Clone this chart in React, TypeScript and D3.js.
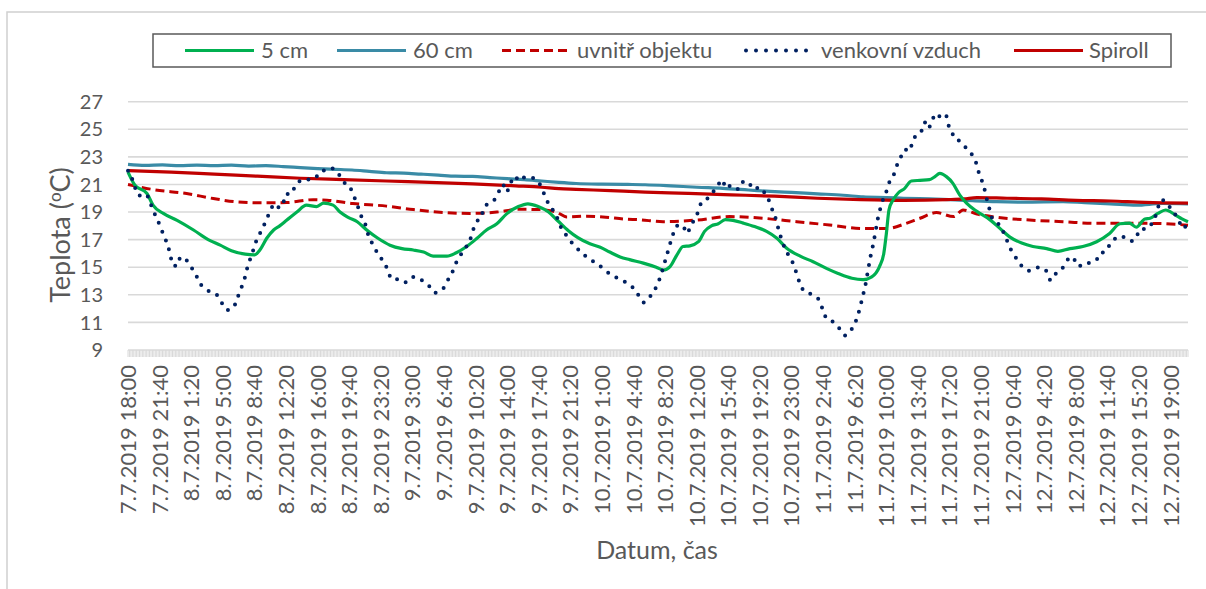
import * as d3 from "d3";

// x axis labels (every 220 minutes)
const tickLabels = [
  "7.7.2019 18:00", "7.7.2019 21:40", "8.7.2019 1:20", "8.7.2019 5:00", "8.7.2019 8:40",
  "8.7.2019 12:20", "8.7.2019 16:00", "8.7.2019 19:40", "8.7.2019 23:20", "9.7.2019 3:00",
  "9.7.2019 6:40", "9.7.2019 10:20", "9.7.2019 14:00", "9.7.2019 17:40", "9.7.2019 21:20",
  "10.7.2019 1:00", "10.7.2019 4:40", "10.7.2019 8:20", "10.7.2019 12:00", "10.7.2019 15:40",
  "10.7.2019 19:20", "10.7.2019 23:00", "11.7.2019 2:40", "11.7.2019 6:20", "11.7.2019 10:00",
  "11.7.2019 13:40", "11.7.2019 17:20", "11.7.2019 21:00", "12.7.2019 0:40", "12.7.2019 4:20",
  "12.7.2019 8:00", "12.7.2019 11:40", "12.7.2019 15:20", "12.7.2019 19:00",
];
const firstTime = "7.7.2019 18:00";
const lastTime = "12.7.2019 21:00";
const yTicks = [9, 11, 13, 15, 17, 19, 21, 23, 25, 27];

// [hours since 7.7.2019 18:00, °C]
const soil5: [number, number][] = [
  [0, 21.9], [0.8, 20.95], [2.2, 20.35], [2.9, 19.5], [4.1, 18.9], [5.7, 18.4], [7.6, 17.7],
  [9.3, 17.0], [10.7, 16.6], [12.0, 16.2], [13.6, 15.95], [14.7, 15.9], [15.3, 16.25],
  [16.1, 17.1], [16.9, 17.7], [17.6, 18.0], [18.4, 18.4], [19.6, 19.0], [20.7, 19.5],
  [21.9, 19.4], [22.7, 19.65], [23.8, 19.5], [24.6, 19.0], [25.6, 18.6], [26.6, 18.3],
  [27.7, 17.7], [29.0, 17.1], [30.4, 16.6], [31.8, 16.35], [33.1, 16.25], [34.3, 16.1],
  [35.4, 15.8], [37.0, 15.8], [38.1, 16.05], [39.3, 16.5], [40.5, 17.1], [41.6, 17.7],
  [42.8, 18.15], [43.9, 18.85], [45.3, 19.4], [46.4, 19.6], [47.6, 19.4], [48.8, 19.0],
  [49.9, 18.35], [51.1, 17.65], [52.2, 17.15], [53.6, 16.7], [54.8, 16.45], [55.9, 16.1],
  [57.1, 15.75], [58.2, 15.55], [59.8, 15.3], [61.3, 15.0], [62.1, 14.8], [62.9, 15.05],
  [63.7, 15.9], [64.4, 16.5], [65.2, 16.55], [66.2, 16.85], [66.9, 17.6], [67.7, 18.0],
  [68.5, 18.15], [69.3, 18.45], [70.2, 18.4], [71.4, 18.2], [72.7, 17.95], [74.1, 17.6],
  [75.3, 17.1], [76.4, 16.4], [78.0, 15.8], [79.5, 15.4], [81.1, 14.9], [82.4, 14.55],
  [84.0, 14.2], [85.3, 14.1], [86.3, 14.3], [87.2, 15.05], [87.7, 16.0], [88.0, 17.45],
  [88.3, 19.15], [88.8, 19.9], [89.4, 20.4], [90.1, 20.7], [90.9, 21.25], [91.9, 21.3],
  [93.0, 21.35], [93.6, 21.55], [94.2, 21.8], [95.0, 21.55], [95.7, 21.1], [96.5, 20.25],
  [97.3, 19.65], [98.5, 19.05], [100.0, 18.45], [101.2, 17.8], [102.3, 17.2], [103.7, 16.75],
  [105.0, 16.5], [106.6, 16.35], [107.9, 16.15], [109.3, 16.35], [110.8, 16.5], [112.4, 16.85],
  [113.9, 17.45], [115.1, 18.15], [116.2, 18.2], [117.0, 17.9], [118.0, 18.5], [118.6, 18.55],
  [119.5, 18.9], [120.4, 19.15], [121.5, 18.8], [122.3, 18.5], [123.0, 18.3],
];

const soil60: [number, number][] = [
  [0, 22.45], [2, 22.38], [4, 22.42], [6, 22.36], [8, 22.4], [10, 22.37], [12, 22.4],
  [14, 22.33], [16, 22.36], [18, 22.3], [20, 22.22], [22, 22.15], [24, 22.1], [26, 22.05],
  [28, 21.95], [30, 21.85], [32, 21.82], [34, 21.75], [36, 21.68], [38, 21.6], [40, 21.58],
  [42, 21.5], [44, 21.42], [46, 21.35], [48, 21.25], [50, 21.15], [52, 21.07], [55, 21.02],
  [58, 21.0], [60, 20.98], [63, 20.9], [66, 20.8], [69, 20.72], [72, 20.6], [74.5, 20.5],
  [77, 20.42], [80, 20.32], [83, 20.22], [85.3, 20.1], [88, 20.05], [90, 20.0], [93, 19.95],
  [96, 19.88], [98, 19.82], [100.8, 19.75], [104, 19.72], [108.5, 19.75], [111, 19.68],
  [114, 19.6], [117, 19.5], [120, 19.62], [123, 19.6],
];

const inside: [number, number][] = [
  [0, 21.0], [2.9, 20.63], [6.8, 20.34], [9.9, 19.98], [12.6, 19.74], [15.7, 19.67],
  [18.4, 19.69], [21.5, 19.9], [23.1, 19.86], [26.1, 19.62], [30.0, 19.43], [33.1, 19.18],
  [36.2, 18.99], [39.7, 18.9], [42.8, 19.0], [45.5, 19.2], [47.8, 19.18], [49.7, 19.0],
  [50.9, 18.65], [53.2, 18.7], [55.1, 18.65], [57.9, 18.48], [59.2, 18.45], [62.1, 18.3],
  [66.0, 18.42], [69.8, 18.67], [73.7, 18.55], [77.6, 18.3], [81.4, 18.06], [85.3, 17.8],
  [88.0, 17.8], [90.3, 18.18], [91.9, 18.55], [93.8, 18.96], [95.8, 18.67], [96.9, 19.15],
  [98.5, 18.86], [100.8, 18.62], [104.6, 18.42], [108.5, 18.3], [112.4, 18.18],
  [116.2, 18.18], [118.6, 18.18], [123.0, 18.05],
];

const outdoor: [number, number][] = [
  [0, 22.0], [0.4, 21.55], [0.8, 20.8], [1.2, 20.2], [2.1, 20.3], [2.55, 19.7], [3.0, 19.0],
  [3.45, 18.4], [3.9, 17.7], [4.3, 17.1], [4.7, 16.4], [4.95, 15.75], [5.25, 15.1],
  [5.7, 15.1], [6.1, 15.75], [6.8, 15.5], [7.4, 14.95], [8.0, 14.3], [8.5, 13.7], [9.3, 13.3],
  [10.3, 13.0], [10.9, 12.4], [11.5, 11.9], [12.2, 12.05], [12.6, 12.6], [13.0, 13.3],
  [13.4, 13.9], [14.0, 15.3], [14.4, 15.95], [14.7, 16.6], [15.1, 17.2], [15.6, 17.8],
  [16.1, 18.5], [16.5, 19.1], [17.05, 19.6], [17.6, 19.3], [18.0, 19.6], [18.3, 20.3],
  [18.9, 20.3], [19.1, 20.6], [19.5, 20.8], [19.95, 21.25], [20.6, 21.25], [21.5, 21.6],
  [22.1, 21.6], [22.7, 22.0], [23.5, 22.2], [24.4, 21.8], [25.0, 21.2], [25.75, 20.8],
  [26.25, 20.1], [26.65, 19.45], [27.0, 18.8], [27.5, 18.2], [27.8, 17.5], [28.2, 16.9],
  [28.7, 16.3], [29.3, 15.7], [29.9, 15.15], [30.25, 14.55], [30.7, 14.1], [31.55, 14.15],
  [32.3, 13.9], [33.2, 14.3], [34.1, 14.05], [35.0, 13.6], [35.6, 13.15], [36.5, 13.4],
  [37.1, 14.05], [37.6, 14.6], [38.05, 15.3], [38.5, 15.8], [39.1, 16.35], [39.7, 17.0],
  [40.0, 17.6], [40.4, 18.3], [40.9, 18.5], [41.2, 19.1], [41.9, 19.7], [42.7, 20.0],
  [43.15, 20.65], [43.5, 21.0], [43.9, 20.45], [44.4, 21.1], [44.8, 21.6], [45.5, 21.25],
  [46.1, 21.55], [46.4, 21.55], [47.2, 21.4], [47.9, 20.9], [48.3, 20.3], [48.8, 19.6],
  [49.4, 19.05], [49.9, 18.45], [50.3, 17.8], [50.95, 17.25], [51.6, 16.7], [52.4, 16.2],
  [53.2, 15.75], [54.05, 15.4], [54.95, 15.0], [55.85, 14.55], [56.7, 14.25], [57.65, 13.95],
  [58.55, 13.55], [59.2, 13.0], [59.85, 12.45], [60.55, 12.85], [61.15, 13.4], [61.65, 14.1],
  [62.0, 14.75], [62.3, 15.4], [62.6, 16.05], [62.9, 16.7], [63.25, 17.4], [63.65, 18.0],
  [64.4, 18.05], [64.8, 17.45], [65.2, 17.8], [65.65, 18.4], [66.15, 19.0], [66.55, 19.7],
  [67.1, 19.9], [67.7, 20.35], [68.35, 20.8], [68.9, 21.35], [69.45, 20.7], [70.0, 20.95],
  [70.9, 20.65], [71.4, 21.2], [71.95, 21.2], [72.55, 20.65], [73.3, 20.8], [74.0, 20.25],
  [74.5, 19.65], [74.85, 19.0], [75.25, 18.35], [75.5, 17.7], [75.85, 17.0], [76.2, 16.4],
  [76.8, 15.7], [77.3, 15.1], [77.6, 14.5], [77.95, 13.85], [78.55, 13.2], [79.5, 13.0],
  [80.3, 12.5], [80.65, 11.85], [81.15, 11.2], [81.8, 11.05], [82.5, 10.6], [83.2, 10.05],
  [83.85, 10.4], [84.4, 11.0], [84.75, 11.65], [85.05, 12.35], [85.3, 13.0], [85.55, 13.65],
  [85.75, 14.35], [85.95, 15.05], [86.15, 15.75], [86.4, 16.45], [86.6, 17.1], [86.8, 17.8],
  [87.0, 18.5], [87.25, 19.15], [87.55, 19.8], [87.95, 20.4], [88.3, 21.1], [88.85, 21.7],
  [89.2, 22.35], [89.65, 22.95], [90.15, 23.55], [90.65, 23.4], [91.0, 24.0], [91.5, 24.65],
  [92.1, 24.9], [92.45, 25.5], [92.85, 25.05], [93.25, 25.55], [93.75, 26.15], [94.4, 25.85],
  [94.9, 26.05], [95.15, 25.4], [95.55, 24.9], [95.95, 24.3], [96.5, 24.15], [97.3, 23.6],
  [98.0, 23.1], [98.45, 22.5], [98.75, 21.8], [99.15, 21.15], [99.45, 20.5], [99.7, 19.8],
  [100.0, 19.15], [100.3, 18.5], [100.8, 18.3], [101.3, 17.85], [101.8, 17.25], [102.2, 16.6],
  [102.7, 16.0], [103.35, 15.4], [104.0, 14.9], [104.65, 14.75], [105.7, 15.0], [106.6, 14.7],
  [107.05, 14.05], [107.6, 14.5], [108.4, 14.9], [108.95, 15.5], [109.65, 15.75],
  [110.15, 15.1], [111.0, 15.1], [111.85, 15.5], [112.9, 15.7], [113.25, 16.3], [114.2, 16.7],
  [114.75, 17.2], [115.65, 17.2], [116.5, 16.9], [117.0, 17.15], [117.4, 17.75], [118.25, 17.8],
  [119.15, 18.6], [119.95, 19.9], [120.65, 19.5], [121.35, 19.0], [122.05, 18.2],
  [122.5, 17.8], [123.0, 18.6],
];

const spiroll: [number, number][] = [
  [0, 22.0], [5, 21.9], [10, 21.75], [15, 21.6], [20, 21.45], [25, 21.35], [30, 21.25],
  [35, 21.15], [40, 21.05], [45, 20.9], [48, 20.8], [50, 20.7], [52, 20.65], [56, 20.55],
  [60, 20.45], [65, 20.35], [70, 20.25], [75, 20.15], [80, 20.0], [85, 19.9], [90, 19.85],
  [95, 19.9], [97, 19.95], [98.5, 20.05], [102, 20.0], [106, 19.95], [110, 19.85],
  [114, 19.8], [118, 19.7], [123, 19.65],
];

const seriesNames = ["5 cm", "60 cm", "uvnitř objektu", "venkovní vzduch", "Spiroll"];

const W = 1206;
const H = 589;
const FONT = "Lato, 'Open Sans', sans-serif";
const TEXT = "#595959";
const GRID = "#D9D9D9";

const parse = d3.timeParse("%d.%m.%Y %H:%M");

export default function App() {
  const start = parse(firstTime) as Date;
  const end = parse(lastTime) as Date;
  const x = d3.scaleTime().domain([start, end]).range([128, 1188]);
  const y = d3.scaleLinear().domain([9, 27]).range([350, 101.7]);
  const toDate = (h: number) => new Date(start.getTime() + h * 3600e3);

  const line = d3
    .line<[number, number]>()
    .x((d) => x(toDate(d[0])))
    .y((d) => y(d[1]))
    .curve(d3.curveMonotoneX);

  const minorTicks = d3.timeMinute.every(10)!.range(start, new Date(end.getTime() + 1));

  const series = [
    { name: seriesNames[0], data: soil5, color: "#00B050", width: 3.2, dash: undefined as string | undefined, cap: "butt" },
    { name: seriesNames[1], data: soil60, color: "#3A8BA6", width: 3.2, dash: undefined, cap: "butt" },
    { name: seriesNames[2], data: inside, color: "#C00000", width: 3, dash: "9 5", cap: "butt" },
    { name: seriesNames[3], data: outdoor, color: "#002060", width: 4, dash: "0 9.5", cap: "round" },
    { name: seriesNames[4], data: spiroll, color: "#C00000", width: 3.2, dash: undefined, cap: "butt" },
  ];
  // draw order: soil60 & spiroll under, then others
  const drawOrder = [1, 4, 2, 0, 3];

  const legendPos = [
    { x1: 185, x2: 254, tx: 261 },
    { x1: 337, x2: 406, tx: 413 },
    { x1: 502, x2: 570, tx: 577 },
    { x1: 746, x2: 809, tx: 821 },
    { x1: 1014, x2: 1083, tx: 1089 },
  ];
  const legendY = 50.5;

  return (
    <svg width={W} height={H} style={{ display: "block", fontFamily: FONT }}>
      <style>{`body{margin:0}`}</style>
      <rect x={0} y={0} width={W} height={H} fill="#fff" />
      <rect x={7} y={12} width={W + 20} height={H + 20} fill="none" stroke="#D0D0D0" strokeWidth={1.5} />

      {/* gridlines */}
      {yTicks.map((t) => (
        <line key={t} x1={x.range()[0]} x2={x.range()[1]} y1={y(t)} y2={y(t)} stroke={GRID} strokeWidth={1.6} />
      ))}
      {/* minor category ticks */}
      {minorTicks.map((t, i) => (
        <line key={i} x1={x(t)} x2={x(t)} y1={y(9)} y2={y(9) + 7} stroke={GRID} strokeWidth={1} />
      ))}

      {/* y tick labels */}
      {yTicks.map((t) => (
        <text key={t} x={103} y={y(t)} dy="0.36em" textAnchor="end" fontSize={20} fill={TEXT}>
          {t}
        </text>
      ))}

      {/* x tick labels */}
      {tickLabels.map((lab) => {
        const d = parse(lab) as Date;
        return (
          <text
            key={lab}
            transform={`translate(${x(d)},${365}) rotate(-90)`}
            dy="0.36em"
            textAnchor="end"
            fontSize={22}
            fill={TEXT}
          >
            {lab}
          </text>
        );
      })}

      {/* series */}
      {drawOrder.map((i) => {
        const s = series[i];
        return (
          <path
            key={s.name}
            d={line(s.data) ?? ""}
            fill="none"
            stroke={s.color}
            strokeWidth={s.width}
            strokeDasharray={s.dash}
            strokeLinecap={s.cap as any}
            strokeLinejoin="round"
          />
        );
      })}

      {/* axis titles */}
      <text transform="translate(60,235) rotate(-90)" dy="0.36em" textAnchor="middle" fontSize={27} fill={TEXT}>
        Teplota (<tspan fontSize={17} dy="-0.5em">o</tspan>
        <tspan dy="0.32em">C)</tspan>
      </text>
      <text x={657} y={550} dy="0.36em" textAnchor="middle" fontSize={25} fill={TEXT}>
        Datum, čas
      </text>

      {/* legend */}
      <rect x={153} y={34} width={1018} height={33} fill="#fff" stroke="#595959" strokeWidth={1.5} />
      {series.map((s, i) => {
        const p = legendPos[i];
        return (
          <g key={s.name}>
            <line
              x1={p.x1}
              x2={p.x2}
              y1={legendY}
              y2={legendY}
              stroke={s.color}
              strokeWidth={s.width}
              strokeDasharray={i === 3 ? "0 10" : s.dash}
              strokeLinecap={s.cap as any}
            />
            <text x={p.tx} y={legendY} dy="0.36em" fontSize={22} fill={TEXT}>
              {s.name}
            </text>
          </g>
        );
      })}
    </svg>
  );
}
